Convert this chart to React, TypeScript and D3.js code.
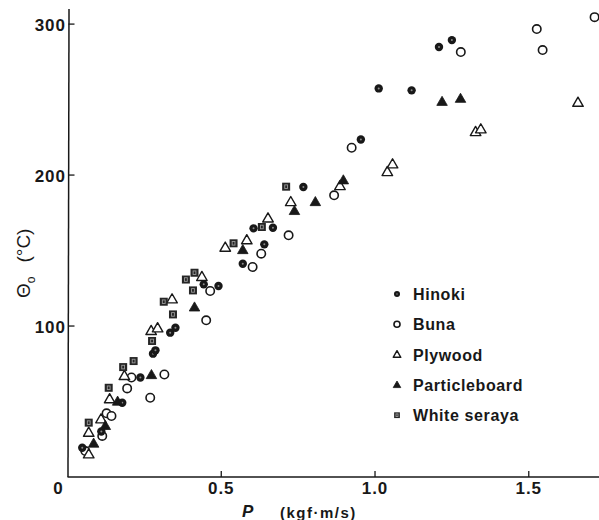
import React, { useRef, useEffect } from "react";
import * as d3 from "d3";

// [P (kgf·m/s), Θo (°C)]
const hinoki: [number, number][] = [
  [0.048, 19.4], [0.110, 30.1], [0.178, 49.2], [0.237, 65.9], [0.278, 81.7],
  [0.286, 83.9], [0.334, 95.6], [0.351, 98.9], [0.443, 127.6], [0.491, 126.5],
  [0.570, 141.3], [0.605, 164.7], [0.640, 154.1], [0.668, 165.1], [0.767, 192.1],
  [0.954, 223.6], [1.012, 257.4], [1.119, 256.1], [1.208, 284.8], [1.250, 289.4],
];
const buna: [number, number][] = [
  [0.058, 17.2], [0.113, 27.2], [0.127, 42.2], [0.143, 40.4], [0.194, 58.7],
  [0.208, 65.9], [0.269, 52.5], [0.315, 67.9], [0.451, 103.8], [0.464, 123.2],
  [0.602, 139.1], [0.630, 147.9], [0.719, 160.1], [0.867, 186.6], [0.924, 218.1],
  [1.279, 281.5], [1.526, 296.7], [1.545, 282.8], [1.714, 304.6],
];
const plywood: [number, number][] = [
  [0.069, 15.0], [0.069, 29.3], [0.109, 38.2], [0.137, 51.5], [0.185, 66.9],
  [0.272, 96.7], [0.293, 98.5], [0.340, 117.7], [0.437, 132.5], [0.513, 151.9],
  [0.583, 156.8], [0.652, 171.3], [0.726, 182.1], [0.886, 192.7], [1.040, 202.0],
  [1.057, 207.1], [1.327, 228.5], [1.344, 230.3], [1.660, 247.9],
];
const particleboard: [number, number][] = [
  [0.085, 22.1], [0.123, 33.8], [0.163, 49.9], [0.273, 67.5], [0.413, 112.3],
  [0.570, 150.3], [0.738, 176.2], [0.806, 182.1], [0.897, 196.5], [1.218, 248.5],
  [1.278, 250.5],
];
const whiteSeraya: [number, number][] = [
  [0.069, 36.0], [0.134, 59.1], [0.181, 72.8], [0.215, 76.8], [0.275, 90.1],
  [0.313, 116.1], [0.343, 107.7], [0.385, 130.8], [0.408, 123.6], [0.413, 135.3],
  [0.540, 154.8], [0.632, 165.6], [0.711, 192.3],
];

const xTicks = [0, 0.5, 1.0, 1.5];
const yTicks = [100, 200, 300];
const legendLabels = ["Hinoki", "Buna", "Plywood", "Particleboard", "White seraya"];

const ink = "#181818";
const font = "'Liberation Sans', Arial, sans-serif";

function drawMarker(g: any, kind: string, cx: number, cy: number, s: number) {
  if (kind === "Hinoki") {
    g.append("circle").attr("cx", cx).attr("cy", cy).attr("r", 4.2 * s).attr("fill", ink);
    g.append("circle").attr("cx", cx).attr("cy", cy).attr("r", 1 * s).attr("fill", "#8a8a8a");
  } else if (kind === "Buna") {
    g.append("circle").attr("cx", cx).attr("cy", cy).attr("r", 4.2 * s)
      .attr("fill", "#fff").attr("stroke", ink).attr("stroke-width", 1.6);
  } else if (kind === "Plywood" || kind === "Particleboard") {
    const open = kind === "Plywood";
    g.append("path")
      .attr("d", d3.symbol().type(d3.symbolTriangle).size(48 * s * s)())
      .attr("transform", `translate(${cx},${cy + 0.5})`)
      .attr("fill", open ? "#fff" : ink)
      .attr("stroke", ink).attr("stroke-width", open ? 1.4 : 0.8)
      .attr("stroke-linejoin", "round");
  } else {
    const h = 4 * s;
    g.append("rect").attr("x", cx - h).attr("y", cy - h).attr("width", 2 * h).attr("height", 2 * h)
      .attr("fill", "#262626");
    g.append("rect").attr("x", cx - 1.4 * s).attr("y", cy - 1.8 * s).attr("width", 2.8 * s).attr("height", 3.6 * s)
      .attr("fill", "none").attr("stroke", "#9a9a9a").attr("stroke-width", 0.9);
  }
}

export default function App() {
  const ref = useRef<SVGSVGElement>(null);

  useEffect(() => {
    const width = 599;
    const height = 520;
    const svg = d3.select(ref.current);
    svg.selectAll("*").remove();
    svg.attr("width", width).attr("height", height);

    const x = d3.scaleLinear().domain([0, 1.73]).range([67.5, 599.5]);
    const y = d3.scaleLinear().domain([0, 310]).range([477, 9]);

    // axes
    svg.append("line").attr("x1", x(0)).attr("x2", width).attr("y1", y(0)).attr("y2", y(0))
      .attr("stroke", ink).attr("stroke-width", 1.5);
    svg.append("line").attr("x1", x(0) + 0.5).attr("x2", x(0) + 1.5).attr("y1", y(0)).attr("y2", y(310))
      .attr("stroke", ink).attr("stroke-width", 1.5);

    svg.append("g").selectAll("line").data(xTicks.slice(1)).enter().append("line")
      .attr("x1", d => x(d)).attr("x2", d => x(d))
      .attr("y1", y(0)).attr("y2", y(0) - 6)
      .attr("stroke", ink).attr("stroke-width", 1.3);
    svg.append("g").selectAll("text").data(xTicks).enter().append("text")
      .attr("x", d => x(d) + (d === 0 ? -9 : 0))
      .attr("y", 494)
      .attr("text-anchor", "middle")
      .style("font-family", font).style("font-size", "17px").style("font-weight", "bold")
      .style("letter-spacing", "1px").style("fill", ink)
      .text(d => (d === 0 ? "0" : d3.format(".1f")(d)));

    svg.append("g").selectAll("line").data(yTicks).enter().append("line")
      .attr("x1", x(0) + 1).attr("x2", x(0) + 7)
      .attr("y1", d => y(d)).attr("y2", d => y(d))
      .attr("stroke", ink).attr("stroke-width", 1.3);
    svg.append("g").selectAll("text").data(yTicks).enter().append("text")
      .attr("x", 66)
      .attr("y", d => y(d) + 7)
      .attr("text-anchor", "end")
      .style("font-family", font).style("font-size", "17px").style("font-weight", "bold")
      .style("letter-spacing", "1px").style("fill", ink)
      .text(d => d);

    // axis titles
    const yl = svg.append("text")
      .attr("transform", "translate(30,298) rotate(-90)")
      .style("font-family", font).style("font-size", "19px").style("fill", ink);
    yl.append("tspan").text("Θ");
    yl.append("tspan").attr("dy", 5).style("font-size", "12px").text("o");
    yl.append("tspan").attr("dx", 14).attr("dy", -5).text("(°C)");

    svg.append("text").attr("x", 242).attr("y", 517)
      .style("font-family", font).style("font-size", "17px").style("font-weight", "bold")
      .style("font-style", "italic").style("fill", ink).text("P");
    svg.append("text").attr("x", 280).attr("y", 518)
      .style("font-family", font).style("font-size", "15px").style("font-weight", "bold")
      .style("letter-spacing", "1.5px").style("fill", ink).text("(kgf·m/s)");

    // points
    const series: [string, [number, number][]][] = [
      ["Buna", buna], ["Plywood", plywood], ["Hinoki", hinoki],
      ["Particleboard", particleboard], ["White seraya", whiteSeraya],
    ];
    const pts = svg.append("g");
    series.forEach(([name, data]) => {
      data.forEach(([p, t]) => drawMarker(pts, name, x(p), y(t), 1));
    });

    // legend
    const lg = svg.append("g");
    legendLabels.forEach((name, i) => {
      const cy = 294 + i * 30.3;
      drawMarker(lg, name, 397, cy, 0.72);
      lg.append("text").attr("x", 413).attr("y", cy + 6)
        .style("font-family", font).style("font-size", "16px").style("font-weight", "bold")
        .style("letter-spacing", "0.6px").style("fill", ink).text(name);
    });
  }, []);

  return (
    <svg ref={ref} style={{ position: "absolute", left: 0, top: 0, background: "#fff" }}></svg>
  );
}
